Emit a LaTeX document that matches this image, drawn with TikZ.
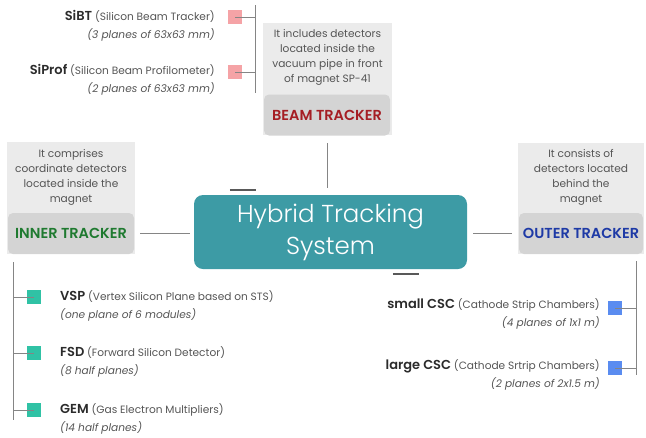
\documentclass[tikz,border=0pt]{standalone}
\usepackage{fontspec}
\setmainfont{Poppins}[BoldFont=* SemiBold]
\newfontfamily\lightfont{Poppins}[UprightFont=* Light]
\definecolor{lightbox}{HTML}{EBEBEB}
\definecolor{darkbox}{HTML}{D4D4D4}
\definecolor{tealmain}{HTML}{3D9BA5}
\definecolor{beamred}{HTML}{A51E24}
\definecolor{innergreen}{HTML}{1F7A30}
\definecolor{outerblue}{HTML}{1E3AA6}
\definecolor{pinksq}{HTML}{F5A3A6}
\definecolor{tealsq}{HTML}{30C2A5}
\definecolor{bluesq}{HTML}{5A8CF0}
\definecolor{linegray}{HTML}{858585}
\definecolor{txt}{HTML}{2B2B2B}
\definecolor{subtxt}{HTML}{555555}
\newcommand{\nmtxt}[1]{\textcolor{txt}{\fontsize{13}{19}\selectfont\bfseries #1}}
\begin{document}
\begin{tikzpicture}[x=1pt,y=-1pt,
  bgbox/.style={fill=lightbox,draw=none,inner sep=0,minimum width=#1},
  titlebox/.style={fill=darkbox,draw=none,rounded corners=5pt,inner sep=0,minimum width=#1,minimum height=41,font=\fontsize{14.5}{16}\selectfont\bfseries},
  desc/.style={align=center,text=subtxt,font=\fontsize{10.6}{14.8}\selectfont,inner sep=0},
  conn/.style={draw=linegray,line width=0.8pt},
  handle/.style={draw=black!65,line width=2pt},
  sq/.style={minimum size=14,inner sep=0,draw=none},
  item/.style={inner sep=0,text=subtxt,font=\fontsize{10.6}{18}\selectfont}
]
\useasboundingbox (0,0) rectangle (646,437);

% Beam tracker
\node[bgbox=129,minimum height=112] (beambg) at (327.5,79) {};
\node[desc] (beamdesc) at (327.5,57.5) {It includes detectors\\located inside the\\vacuum pipe in front\\of magnet SP-41};
\node[titlebox=126,text=beamred] (beam) at (327,115) {BEAM TRACKER};

% Inner tracker
\node[bgbox=128,minimum height=112] (innerbg) at (71,198) {};
\node[desc] (innerdesc) at (71,177.5) {It comprises\\coordinate detectors\\located inside the\\magnet};
\node[titlebox=126,text=innergreen] (inner) at (71,233.5) {INNER TRACKER};

% Outer tracker
\node[bgbox=126,minimum height=111] (outerbg) at (581,198.5) {};
\node[desc] (outerdesc) at (581,177.5) {It consists of\\detectors located\\behind the\\magnet};
\node[titlebox=124,text=outerblue] (outer) at (581,233.5) {OUTER TRACKER};

% Central
\node[fill=tealmain,rounded corners=9pt,minimum width=273,minimum height=74,inner sep=0,
      align=center,text=white,font=\lightfont\fontsize{24.5}{32}\selectfont] (central) at (330.5,232)
      {Hybrid Tracking\\System};

% connectors to central
\draw[conn,shorten <=8pt,shorten >=7pt] (beambg.south -| 327,0) -- (central.north -| 327,0);
\draw[conn,shorten <=6pt,shorten >=4pt] (inner.east) -- (inner.east -| central.west);
\draw[conn,shorten <=6pt,shorten >=7pt] (outer.west -| central.east) -- (outer.west);

% handles
\draw[handle] ([xshift=36pt,yshift=5pt]central.north west) -- ++(26,0);
\draw[handle] ([xshift=199pt,yshift=-5pt]central.south west) -- ++(26,0);

% Beam bracket
\coordinate (bt) at (255,5);
\coordinate (bb) at (255,93);
\draw[conn] (bt) -- (bb);
\node[sq,fill=pinksq] (sibtsq) at (235,17) {};
\node[sq,fill=pinksq] (siprofsq) at (235,72) {};
\draw[conn] (sibtsq.center) -- (sibtsq.center -| bt);
\draw[conn] (siprofsq.center) -- (siprofsq.center -| bt);
\node[item,anchor=east,align=right] (sibt) at (215,25.5) {\nmtxt{SiBT} (Silicon Beam Tracker)\\{\itshape (3 planes of 63x63 mm)}};
\node[item,anchor=east,align=right] (siprof) at (215,80) {\nmtxt{SiProf} (Silicon Beam Profilometer)\\{\itshape (2 planes of 63x63 mm)}};

% Inner bracket
\coordinate (it) at (13,262);
\coordinate (ib) at (13,420);
\draw[conn] (it) -- (ib);
\node[sq,fill=tealsq] (vspsq) at (34,297) {};
\node[sq,fill=tealsq] (fsdsq) at (34,353) {};
\node[sq,fill=tealsq] (gemsq) at (34,410) {};
\draw[conn] (vspsq.center -| it) -- (vspsq.center);
\draw[conn] (fsdsq.center -| it) -- (fsdsq.center);
\draw[conn] (gemsq.center -| it) -- (gemsq.center);
\node[item,anchor=west,align=left] (vsp) at (60,306) {\nmtxt{VSP} (Vertex Silicon Plane based on STS)\\{\itshape (one plane of 6 modules)}};
\node[item,anchor=west,align=left] (fsd) at (60,362) {\nmtxt{FSD} (Forward Silicon Detector)\\{\itshape (8 half planes)}};
\node[item,anchor=west,align=left] (gem) at (60,419) {\nmtxt{GEM} (Gas Electron Multipliers)\\{\itshape (14 half planes)}};

% Outer bracket
\coordinate (ot) at (636,261);
\coordinate (ob) at (636,375);
\draw[conn] (ot) -- (ob);
\node[sq,fill=bluesq] (smallsq) at (615,308) {};
\node[sq,fill=bluesq] (largesq) at (615,368) {};
\draw[conn] (smallsq.center) -- (smallsq.center -| ot);
\draw[conn] (largesq.center) -- (largesq.center -| ot);
\node[item,anchor=east,align=right] (small) at (600,314) {\nmtxt{small CSC} (Cathode Strip Chambers)\\{\itshape (4 planes of 1x1 m)}};
\node[item,anchor=east,align=right] (large) at (600,375) {\nmtxt{large CSC} (Cathode Srtrip Chambers)\\{\itshape (2 planes of 2x1.5 m)}};
\end{tikzpicture}
\end{document}
